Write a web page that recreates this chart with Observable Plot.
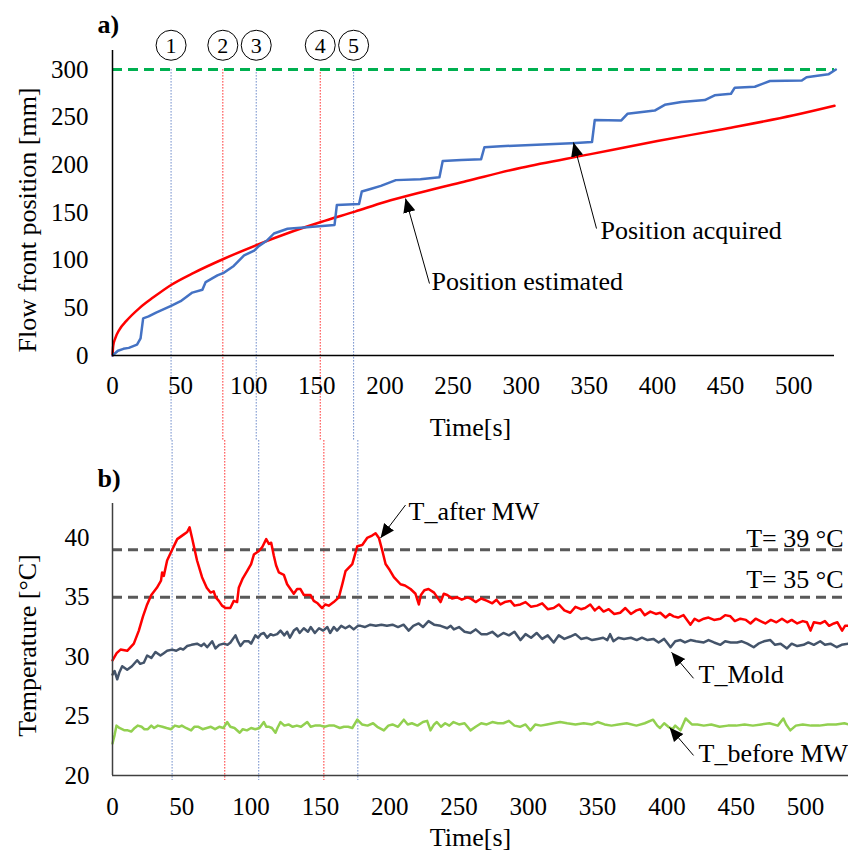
<!DOCTYPE html>
<html><head><meta charset="utf-8">
<script src="https://cdn.jsdelivr.net/npm/d3@7"></script>
<script src="https://cdn.jsdelivr.net/npm/@observablehq/plot@0.6"></script>
<style>
html,body{margin:0;padding:0;background:#fff;}
#chart{width:848px;height:853px;position:relative;}
#chart svg{display:block;}
</style></head><body><div id="chart"></div>
<script>
// ---------- data ----------
const markerTimes = [43, 81, 105.5, 152.5, 177];
const markerLabels = ["1", "2", "3", "4", "5"];

const xTicks = [0, 50, 100, 150, 200, 250, 300, 350, 400, 450, 500];
const posTicks = [0, 50, 100, 150, 200, 250, 300];
const tempTicks = [20, 25, 30, 35, 40];

const targetLength = [300];
const thresholds = [39, 35];
const thresholdLabels = ["T= 39 °C", "T= 35 °C"];
const thresholdLabelY = [39.27, 35.77];

// Position acquired (blue)
const acqTime = [0, 4, 8, 12, 18, 20.6, 22.5, 26.5, 32, 43, 50, 58.6, 66, 68.4, 77, 82, 89, 96.6, 104, 107.6, 113.7, 118.5, 128.5, 138, 163, 164.7, 181, 183, 190, 197, 208, 226, 240, 242.4, 256, 270.6, 273, 285, 337, 352, 354, 373.5, 378, 398, 405.4, 417.6, 434.8, 442, 454, 456.8, 471.5, 482.6, 506, 509.5, 525.5, 531];
const acqPos  = [0, 5, 7, 8, 11.5, 18, 39, 41, 45, 52, 57, 66, 69, 77, 84, 87, 94, 105, 110, 115, 121, 128, 133, 134, 137, 158, 159, 172, 175, 178, 184, 185, 187, 204, 205, 206, 218.5, 219.6, 222.8, 224, 247, 246.6, 253.6, 257, 263, 266, 268, 273, 274.6, 281, 282, 288, 288.6, 292, 295, 300];

// Position estimated (red)
const estTime = [0, 0.5, 2, 5, 10, 20, 30, 43, 60, 81, 106, 130, 153, 178, 200, 226, 260, 300, 350, 400, 450, 500, 530];
const estPos  = [0, 10, 18, 27, 36, 50, 61, 74, 87, 101, 116, 129, 140, 151, 161, 171, 183, 197, 211, 225, 238, 252, 262];

// T_after MW (red)
const afterTime = [0,3,5.8,10.6,15.4,19,22,25,28,32,35,35.8,37,39.4,42.6,46.7,51.5,53.9,55.6,57.4,61,64.6,68,70.7,73,74.5,76.7,79,81.5,85,87.5,89.9,91.1,94,97.1,100,102,105.6,107.9,110.9,112.8,114.5,116.4,118,120,123.6,126,130.8,133.2,135.6,138,142.8,145.2,148,151.2,153.5,156,159.6,163.3,166,168.1,173,176.6,180.2,183.7,187.3,189.8,192.2,194.5,197,200,203,207.8,211,215,218.6,221,222.5,225,228,232,236.7,239,241.5,245,248.7,252,256,258.3,262,266,270.3,274,277,279.9,283,287.1,290,294.3,298,302,306.3,310,314,318.3,322,326,330.3,334,338,341,344.7,348,351,354.3,358,362,366.3,370,374,378,380.8,384,388,392,395.2,399,402,404.8,408,412,417,420,423,426.6,430,434,438.6,442,445.8,449,453,457,460.3,464,467.5,471,475,479,483,486.8,490,494,498,501,503.6,506,510.8,514,517,520.4,523,526.4,528.5,531];
const afterTemp = [29.7,30.3,30.6,30.5,31.1,32.2,33.4,34.4,35.2,35.8,36.4,37.1,36.8,38.1,38.9,39.9,40.3,40.5,40.9,40.0,38.1,36.7,35.8,35.4,35.5,35.0,34.7,34.3,34.1,34.1,34.7,34.6,35.8,36.6,37.2,37.8,38.6,38.9,39.2,39.9,39.5,39.6,38.5,37.7,37.1,36.9,36.1,35.3,35.7,35.7,35.2,35.2,34.7,34.5,34.1,34.4,34.3,34.6,35.0,36.2,37.2,37.8,39.3,39.4,40.0,40.2,40.4,40.0,39.0,37.8,37.3,36.7,36.1,36.0,35.7,35.3,34.4,35.2,35.6,35.7,35.4,34.6,35.3,35.2,34.9,35.0,34.8,35.0,34.9,34.6,34.9,34.7,34.5,34.8,34.4,34.6,34.7,34.3,34.4,34.6,34.2,34.3,34.5,34.0,34.1,34.4,33.9,33.7,34.2,34.0,34.1,34.4,33.9,34.2,33.8,34.0,33.6,33.7,34.1,33.6,33.9,34.0,33.5,33.8,33.6,33.7,33.3,33.6,33.4,33.3,33.5,32.7,33.2,33.0,33.2,33.3,33.1,33.2,33.5,33.4,33.0,33.2,33.1,32.8,33.2,33.0,32.8,33.1,32.9,33.2,32.9,33.1,32.8,33.0,32.9,32.2,32.9,32.8,33.0,32.6,32.8,32.9,32.2,32.6,32.6];

// T_Mold (slate)
const moldTime = [0,1.5,3.4,5,7,10.6,14,17.8,20,22.6,25,28,31,34.6,37,39.4,43,46,49,51,53.9,57,61,64,66,68.3,71.9,74.3,77,80.3,83,85.1,88.7,90.5,92.3,95,98.3,100,103.1,105,107,109.2,111.6,114,116,118.8,121.2,124,126,128,130.8,133,135,138,141,143,146,149,152,155,157,159.7,162,165,168,171,174,177,179,182,186,190,194,198,202,206,210,213.7,217,220.9,224,228,232,236.7,241.5,244,246.3,250,254,258.3,262,266,270.3,274,278,282,286,290,294.3,298,302,306,310,314,318.3,322,326,330.3,334,338,342,346,350,354,357,359,361.4,365,369,374,378.2,382,386,390.2,394,398,400,402.6,406,409.8,413,417,421,426.6,430,434,438.6,442,446,450.6,454,458,462.6,466,470,474.6,478,482,486.6,490,494,498.6,502,506,510.6,514,518,522.6,526,531];
const moldTemp = [28.5,28.8,28.1,28.7,29.2,28.9,29.2,29.7,29.4,29.5,30.1,29.9,30.4,30.1,30.3,30.5,30.6,30.5,30.7,30.6,30.9,31.0,31.1,30.9,31.1,30.8,31.3,30.7,31.0,31.1,31.0,31.2,31.8,31.3,30.9,31.3,31.3,31.1,31.8,31.6,31.9,32.0,31.6,31.9,31.8,31.9,32.2,31.8,32.1,31.6,32.2,32.4,32.0,32.4,32.1,32.5,32.0,32.4,32.2,32.5,32.0,32.5,32.2,32.6,32.4,32.6,32.3,32.6,32.6,32.5,32.7,32.6,32.7,32.6,32.7,32.5,32.7,32.2,32.6,32.8,32.5,33.0,32.7,32.6,32.4,32.6,32.3,32.5,32.1,32.0,32.3,31.9,31.9,32.1,31.7,32.0,31.8,32.1,31.4,31.9,31.6,32.0,31.5,31.8,31.2,31.8,31.5,31.7,31.9,31.5,31.6,31.4,31.5,31.6,31.4,31.9,31.3,31.6,31.5,31.6,31.4,31.6,31.4,31.5,31.2,31.5,31.2,30.8,31.3,31.4,31.2,31.4,31.3,31.2,31.4,31.2,31.0,31.3,31.2,31.2,31.3,31.1,30.8,31.1,31.3,31.4,31.0,31.1,30.7,31.1,30.9,31.0,31.2,31.0,31.3,31.0,31.1,30.8,31.0,31.1];

// T_before MW (green)
const beforeTime = [0,1.5,2.9,5,8.7,11,13.5,16,18.3,21,23,25.5,28,30,32.7,36,39,42.3,45,48,50,53,56.7,59,62,65,68,71,74,77,80,82.7,85,88,91.8,94,97,100,103,106,109.2,111,113,115,117.6,119,121.2,124,127,130,133,136,140.5,143,146,150.1,153,156,160,164,167,170,173,176.6,180,184,188,191,195.8,199,202,206,210.2,213,216,220,224,227,229.4,232,234,237,240,243,246,250,254,258.3,262,266,270,274,278,282,286,290,294,298,301.5,305,309,313.5,318,323,328,334,340,346,350,355,360,365,371,378,384,390,393,395,398,401,404,406,409.8,413.5,418,422,426.6,432,438,444,450,456,462,468,474,480,484,486,489,493,498,504,510,516,522,528,531];
const beforeTemp = [22.7,23.4,24.2,24.0,23.8,23.8,23.7,24.0,24.2,24.1,23.9,23.9,24.2,24.0,24.2,24.1,24.0,23.9,24.2,24.1,24.2,24.0,23.8,24.1,24.1,23.9,24.0,24.1,23.9,24.1,24.0,24.5,24.1,24.0,23.6,23.9,23.8,24.0,23.9,24.0,24.5,24.1,24.1,24.0,23.6,24.0,24.5,24.2,24.3,24.1,24.2,24.1,24.5,24.1,24.2,24.2,24.1,24.2,24.2,24.0,24.1,24.1,24.0,24.7,24.3,24.2,24.4,24.1,23.8,24.2,24.3,24.1,24.7,24.3,24.4,24.2,24.5,24.6,23.8,24.3,24.5,24.1,24.4,24.2,24.5,24.3,24.4,23.8,24.1,24.4,24.3,24.5,24.4,24.4,24.6,24.2,24.1,24.3,23.8,24.3,24.2,24.3,24.4,24.5,24.4,24.3,24.4,24.3,24.5,24.3,24.2,24.3,24.4,24.2,24.4,24.7,24.2,24.0,24.4,24.1,23.9,24.2,23.8,24.8,24.3,24.3,24.2,24.3,24.1,24.2,24.2,24.3,24.2,24.3,24.4,24.2,24.8,24.3,23.8,24.2,24.3,24.2,24.2,24.3,24.3,24.4,24.3];

// annotations (label, text anchor, arrow start, arrow tip), in data units
const topLabels = ["Position acquired", "Position estimated"];
const topLabelT = [358.2, 234.2], topLabelV = [122.7, 68.2];
const topArrowT1 = [355.3, 232.7], topArrowV1 = [133.2, 75.5];
const topArrowT2 = [338.4, 215.1], topArrowV2 = [223.5, 164.7];

const botLabels = ["T_after MW", "T_Mold", "T_before MW"];
const botLabelT = [213.6, 422.8, 422.8], botLabelV = [41.5, 27.76, 21.1];
const botArrowT1 = [211.4, 419.2, 419.2], botArrowV1 = [42.77, 28.18, 21.69];
const botArrowT2 = [193.4, 403.3, 401.9], botArrowV2 = [40.0, 30.37, 24.05];

// ---------- build ----------
const zip2 = (a, b) => a.map((t, i) => ({t, v: b[i]}));
const acquired = zip2(acqTime, acqPos);
const estimated = zip2(estTime, estPos);
const after = zip2(afterTime, afterTemp);
const mold = zip2(moldTime, moldTemp);
const before = zip2(beforeTime, beforeTemp);
const topAnn = topLabels.map((label, i) => ({label, tx: topLabelT[i], ty: topLabelV[i], x1: topArrowT1[i], y1: topArrowV1[i], x2: topArrowT2[i], y2: topArrowV2[i]}));
const botAnn = botLabels.map((label, i) => ({label, tx: botLabelT[i], ty: botLabelV[i], x1: botArrowT1[i], y1: botArrowV1[i], x2: botArrowT2[i], y2: botArrowV2[i]}));
const markers = markerTimes.map((t, i) => ({t, label: markerLabels[i], i}));

const FONT = "'Liberation Serif','Times New Roman',serif";

function fixArrows(svg) {
  svg.querySelectorAll("marker").forEach(m => {
    m.setAttribute("viewBox", "-10 -5 10 10");
    m.setAttribute("markerWidth", 14);
    m.setAttribute("markerHeight", 14);
    m.setAttribute("fill", "#000");
    m.setAttribute("stroke", "none");
    const p = m.querySelector("path");
    if (p) p.setAttribute("d", "M-10,-4.4L0,0L-10,4.4Z");
  });
}

const topPlot = Plot.plot({
  width: 848, height: 440,
  marginLeft: 112, marginRight: 14, marginTop: 50, marginBottom: 85,
  x: {domain: [0, 530], label: null},
  y: {domain: [0, 320], label: null},
  style: {fontFamily: FONT, fontSize: "25px", color: "#000", background: "transparent"},
  marks: [
    Plot.ruleX(markers.filter(d => d.i % 2 === 0), {x: "t", y1: 300, y2: -89, stroke: "#6a88c8", strokeWidth: 1, strokeDasharray: "1.5,1.5"}),
    Plot.ruleX(markers.filter(d => d.i % 2 === 1), {x: "t", y1: 300, y2: -89, stroke: "#ff2a2a", strokeWidth: 1, strokeDasharray: "1.5,1.5"}),
    Plot.ruleY(targetLength, {stroke: "#00b050", strokeWidth: 3, strokeDasharray: "10,6"}),
    Plot.line(estimated, {x: "t", y: "v", stroke: "#ff0000", strokeWidth: 2.5, curve: "monotone-x"}),
    Plot.line(acquired, {x: "t", y: "v", stroke: "#4472c4", strokeWidth: 2.5}),
    Plot.ruleX([0], {stroke: "#000", strokeWidth: 1.5}),
    Plot.ruleY([0], {stroke: "#000", strokeWidth: 1.5}),
    Plot.axisX(xTicks, {tickSize: 0, tickPadding: 21, label: null, fontSize: 25}),
    Plot.axisY(posTicks, {tickSize: 0, tickPadding: 24, label: null, fontSize: 25}),
    Plot.dot(markers, {x: "t", y: 325.5, r: 15, stroke: "#000", strokeWidth: 1, fill: "#fff"}),
    Plot.text(markers, {x: "t", y: 325.5, text: "label", fontSize: 22, dy: 1}),
    Plot.link(topAnn, {x1: "x1", y1: "y1", x2: "x2", y2: "y2", stroke: "#000", strokeWidth: 1, markerEnd: "arrow"}),
    Plot.text(topAnn, {x: "tx", y: "ty", text: "label", textAnchor: "start", lineAnchor: "bottom", fontSize: 26}),
    Plot.text(["Time[s]"], {frameAnchor: "bottom", dx: -3, dy: 80, textAnchor: "middle", lineAnchor: "bottom", fontSize: 26}),
    Plot.text(["Flow front position [mm]"], {frameAnchor: "left", dx: -85, dy: 17, rotate: -90, textAnchor: "middle", lineAnchor: "middle", fontSize: 26}),
    Plot.text(["a)"], {frameAnchor: "top-left", dx: -15, dy: -18, textAnchor: "start", lineAnchor: "bottom", fontSize: 26, fontWeight: "bold"})
  ]
});
fixArrows(topPlot);

const botPlot = Plot.plot({
  width: 848, height: 413,
  marginLeft: 112, marginRight: 0, marginTop: 63, marginBottom: 78,
  x: {domain: [0, 531], label: null},
  y: {domain: [20, 42.9], label: null},
  style: {fontFamily: FONT, fontSize: "25px", color: "#000", background: "transparent"},
  marks: [
    Plot.ruleX(markers.filter(d => d.i % 2 === 0), {x: "t", y1: 48.2, y2: 19.58, stroke: "#6a88c8", strokeWidth: 1, strokeDasharray: "1.5,1.5"}),
    Plot.ruleX(markers.filter(d => d.i % 2 === 1), {x: "t", y1: 48.2, y2: 19.58, stroke: "#ff2a2a", strokeWidth: 1, strokeDasharray: "1.5,1.5"}),
    Plot.ruleY(thresholds, {stroke: "#595959", strokeWidth: 3, strokeDasharray: "10,6"}),
    Plot.text(thresholds, {frameAnchor: "right", y: (d, i) => thresholdLabelY[i], text: (d, i) => thresholdLabels[i], dx: -5, textAnchor: "end", lineAnchor: "bottom", fontSize: 26}),
    Plot.line(before, {x: "t", y: "v", stroke: "#92d050", strokeWidth: 2.5}),
    Plot.line(mold, {x: "t", y: "v", stroke: "#44546a", strokeWidth: 2.5}),
    Plot.line(after, {x: "t", y: "v", stroke: "#ff0000", strokeWidth: 2.5}),
    Plot.ruleX([0], {stroke: "#404040", strokeWidth: 1.5}),
    Plot.ruleY([20], {stroke: "#404040", strokeWidth: 1.5}),
    Plot.axisX(xTicks, {tickSize: 0, tickPadding: 22, label: null, fontSize: 25}),
    Plot.axisY(tempTicks, {tickSize: 0, tickPadding: 23, label: null, fontSize: 25}),
    Plot.link(botAnn, {x1: "x1", y1: "y1", x2: "x2", y2: "y2", stroke: "#000", strokeWidth: 1, markerEnd: "arrow"}),
    Plot.text(botAnn, {x: "tx", y: "ty", text: "label", textAnchor: "start", lineAnchor: "bottom", fontSize: 26}),
    Plot.text(["Time[s]"], {frameAnchor: "bottom", dx: -10, dy: 70, textAnchor: "middle", lineAnchor: "bottom", fontSize: 26}),
    Plot.text(["Temperature [°C]"], {frameAnchor: "left", dx: -85, dy: 6, rotate: -90, textAnchor: "middle", lineAnchor: "middle", fontSize: 26}),
    Plot.text(["b)"], {frameAnchor: "top-left", dx: -15, dy: -17, textAnchor: "start", lineAnchor: "bottom", fontSize: 26, fontWeight: "bold"})
  ]
});
fixArrows(botPlot);

const root = document.getElementById("chart");
root.appendChild(topPlot);
root.appendChild(botPlot);
</script></body></html>
